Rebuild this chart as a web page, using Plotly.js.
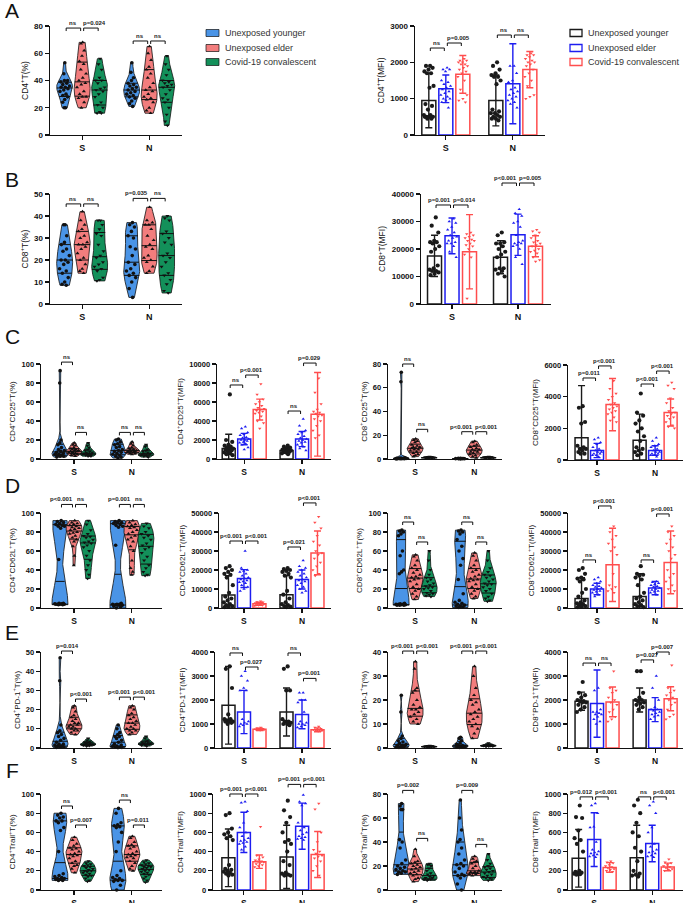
<!DOCTYPE html>
<html><head><meta charset="utf-8">
<script src="https://cdn.plot.ly/plotly-3.0.1.min.js"></script>
<style>html,body{margin:0;padding:0;background:#fff}#chart{width:685px;height:903px}</style>
</head><body><div id="chart"></div>
<script>
// ---------------- DATA (order in each list: younger, elder, convalescent) ----------------
const categories = ['S','N'];
const groupNames = ['Unexposed younger','Unexposed elder','Covid-19 convalescent'];

// A  CD4+ T (%)
const cd4Pct_S = [
 [53,45,40,40,39,38,37,36,35,35,34,33,32,30,29,28,26,24,20,20],
 [68,67,62,58,54,52,48,45,42,40,38,37,35,32,30,28,28,27,24,20],
 [56,52,48,42,40,40,38,35,34,33,32,30,28,24,22,20,17,16,16]];
const cd4Pct_N = [
 [53,46,42,40,38,37,36,35,34,33,32,31,30,29,28,27,25,23,21],
 [65,60,55,50,48,45,42,38,35,33,32,30,28,27,26,24,20,18,16],
 [58,52,48,44,40,39,38,37,36,35,33,30,27,26,24,20,15,10,7]];
// A  CD4+ T (MFI)
const cd4Mfi_S = [
 [1900,1900,1850,1800,1750,1700,1700,1350,1300,850,800,700,550,550,500,500,500,500,450,450],
 [1850,1800,1800,1750,1500,1450,1400,1350,1300,1250,1200,1150,1100,1050,1000,1000,950,900,750],
 [2100,2050,2050,2000,2000,1950,1950,1900,1850,1800,1750,1700,1600,1500,1250,1100,1000,950,900]];
const cd4Mfi_N = [
 [2000,1900,1800,1700,1650,1600,1600,1500,1400,700,650,600,600,550,500,500,450,450,400],
 [1900,1900,1700,1500,1450,1300,1250,1200,1150,1100,1050,1000,950,900,850,750],
 [2250,2200,2200,2150,2100,2050,2000,2000,1950,1900,1800,1700,1600,1500,1350,1100,1050,1000]];
const cd4Mfi_mean = {S:[950,1270,1670], N:[950,1410,1800]};
const cd4Mfi_sd   = {S:[750,380,520],  N:[700,1100,500]};

// B  CD8+ T (%)
const cd8Pct_S = [
 [36,36,31,28,27,25,24,22,20,20,19,18,16,15,14,12,10,9,8.5],
 [42,38,36,34,33,31,30,28,27,27,26,25,23,21,20,18,16,15,14],
 [38,38,36,34,32,31,27,24,22,21,19,18,17,16,15,12,11,10.5]];
const cd8Pct_N = [
 [37,36,35,33,31,30,26,25,22,19,18,16,15,14,13,12,10,7,3],
 [44,38,37,36,36,34,31,29,27,26,25,22,21,20,19,17,15,14],
 [40,39,38,33,32,30,28,27,23,22,21,19,17,14,13,11,9,6,5]];
// B  CD8+ T (MFI)
const cd8Mfi_S = [
 [31500,28500,26000,23000,22500,22500,22000,21000,20000,19000,14000,13000,12500,12000,12000,11500,11000,10500],
 [31000,30000,29500,28000,27000,26000,25000,24500,24000,23000,22500,22000,22000,21000,19000,17000],
 [26000,25500,25000,24500,24000,23500,23000,23000,22000,21500,21000,20000,18000,17000,2000]];
const cd8Mfi_N = [
 [26000,25000,22500,22000,22000,21000,20000,19000,18000,17000,13000,13000,12500,12000,11000,10000],
 [34500,33000,32000,30000,29500,28000,25000,23000,22500,22000,22000,21500,21000,20000,17000,14500],
 [27000,26500,26000,25000,24000,23000,22500,22000,21500,21000,20000,19500,19000,18500,17000,16000,15500]];
const cd8Mfi_mean = {S:[17500,24800,19000], N:[17000,25200,21000]};
const cd8Mfi_sd   = {S:[7500,6500,13500],   N:[6000,7500,3800]};

// C  CD25
const cd4cd25Pct_S = [
 [93,80,20,17,15,12,10,9,8,7,6,5,5,4,4,3,3,2],
 [17,15,14,12,11,10,10,9,9,8,8,7,7,6,6,5,5,4,3],
 [17,14,12,10,9,8,7,7,6,6,5,5,5,4,4,3,3]];
const cd4cd25Pct_N = [
 [21,20,18,16,15,13,12,10,9,8,7,6,5,4,3,2,1],
 [18,16,14,12,11,10,10,9,9,8,8,8,7,7,6,6,5],
 [15,13,10,9,8,7,6,6,5,5,5,4,4,3,3,2]];
const cd4cd25Mfi_S = [
 [6800,2000,1800,1500,1400,1300,1200,1100,1000,1000,900,800,700,600,500,400],
 [3400,3200,2800,2600,2500,2300,2200,2100,2000,2000,1900,1800,1700,1600,1500,1200,1000],
 [7900,6800,6300,6000,5800,5600,5400,5300,5200,5100,5000,4900,4800,4500,4000,3800,3200]];
const cd4cd25Mfi_N = [
 [1400,1300,1200,1100,1000,1000,950,900,850,800,750,700,600,500],
 [4200,3500,3000,2800,2600,2400,2200,2100,2000,1900,1800,1700,1500,1300,1100,900],
 [8500,7000,5800,5200,5000,4900,4800,4600,4500,4200,4000,3500,3000,2500,2200]];
const cd4cd25Mfi_mean = {S:[1100,2100,5200], N:[900,2100,4700]};
const cd4cd25Mfi_sd   = {S:[1500,600,1100],  N:[300,800,4400]};
const cd8cd25Pct_S = [
 [73,65,1,0.8,0.6,0.5,0.5,0.4,0.3,0.3,0.2,0.2,0.1],
 [17,16,15,14,12,11,10,10,9,9,8,8,7,6,5,4,3,2],
 [2,1.8,1.6,1.5,1.4,1.3,1.2,1.1,1,1,0.9,0.8,0.7]];
const cd8cd25Pct_N = [
 [0.6,0.5,0.4,0.4,0.3,0.3,0.2,0.2,0.1],
 [15,14,12,11,10,9,8,8,7,6,6,5,4,3,2,1],
 [2,1.8,1.6,1.5,1.3,1.2,1.1,1,0.9,0.8,0.7]];
const cd8cd25Mfi_S = [
 [3400,3300,2400,2300,900,800,700,700,600,500,400,400],
 [1400,1300,1100,1000,800,700,600,500,500,400,400,300,300,200],
 [5000,4500,4200,4000,3800,3600,3500,3400,3300,3200,3100,3000,2900,2700,2500,2400]];
const cd8cd25Mfi_N = [
 [4200,3000,2800,2500,2300,2000,1800,1500,1200,800,700,600,500,400,300],
 [1400,1200,1000,900,800,700,600,500,500,400,400,300,300,200],
 [4900,4700,4500,3900,3600,3300,3100,3000,2900,2800,2700,2600,2400,2200,2100,2000]];
const cd8cd25Mfi_mean = {S:[1400,600,3500], N:[1250,600,3000]};
const cd8cd25Mfi_sd   = {S:[3300,450,1650], N:[1650,300,850]};

// D  CD62L
const cd4cd62lPct_S = [
 [92,91,90,89,88,87,86,86,84,51,5,5,4.5,4.5,4,4,4,4,3.5,3.5],
 [92,90,89,88,87,86,85,84,83,82,80,79,78,76,74,72,70,65,55,45],
 [92,88,82,78,76,75,74,72,70,69,68,66,64,60,55,50,45,40,35,31]];
const cd4cd62lPct_N = [
 [92,91,90,90,89,88,87,86,85,66,5,4,4,4,3.5,3,3,2,1,0],
 [92,90,88,87,86,85,84,82,80,78,76,74,72,70,65,60,50,42,38,35],
 [89,86,84,80,78,76,74,72,68,66,64,62,58,54,50,45,42,38,35,34]];
const cd4cd62lMfi_S = [
 [22000,21000,20000,19000,18000,17500,16000,12000,8000,6000,5000,4000,3000,2000,1500,1000,800,500],
 [30000,21000,20000,19500,19000,18000,17000,16000,15500,15000,14500,14000,13500,13000,12000,11000,10000,9000],
 [3500,3200,3000,2800,2600,2400,2200,2000,1800,1600,1500,1400,1200]];
const cd4cd62lMfi_N = [
 [21000,20500,20000,19500,19000,18000,17000,16000,9000,7000,5000,3000,2000,1500,1000,800,500],
 [25000,22000,21000,20000,19000,18000,17000,16000,15000,14500,14000,13000,12000,11000,10000,9000,8000],
 [48000,45000,42000,38000,35000,33000,30000,29000,28000,26000,24000,22000,20000,18000,17000]];
const cd4cd62lMfi_mean = {S:[6800,15500,2200], N:[7000,15000,29000]};
const cd4cd62lMfi_sd   = {S:[10200,4700,800],  N:[10000,5000,11500]};
const cd8cd62lPct_S = [
 [82,81,80,78,76,60,55,40,38,36,5,4.5,4,4,4,3.5,3.5,3,3,3],
 [56,54,50,45,42,40,37,35,33,32,31,30,28,25,22,20,18,15,12,9],
 [60,50,40,35,32,30,28,26,24,23,22,21,20,18,16,15,14,13,12]];
const cd8cd62lPct_N = [
 [82,81,80,78,72,65,60,52,45,30,15,8,6,5,4,3,2,2,1,0.5],
 [58,55,50,45,42,40,38,35,33,31,30,29,28,25,22,20,18,15,12,10],
 [60,50,42,38,35,34,32,30,28,26,25,24,22,20,18,15,12,10,8,7]];
const cd8cd62lMfi_S = [
 [21000,20000,18000,16000,15500,15000,14000,10000,8000,6000,4000,3000,2500,2000,1500,1000,800,500],
 [16000,15000,14000,13000,12000,11500,11000,10500,10000,9500,9000,8500,8000,7000,6000],
 [43000,40000,38000,36000,34000,32000,30000,28000,18000,12000,11000,10000,9000,8000]];
const cd8cd62lMfi_N = [
 [22000,18000,17500,17000,16000,15000,12000,8000,6000,5000,4000,3000,2000,1500,1000,500],
 [14000,13500,13000,12500,12000,11500,11000,10500,10000,9500,9000,8500,8000,7000],
 [43000,40000,38000,36000,34000,32000,30000,28000,26000,20000,18000,16000,14000,12000,10000,9000]];
const cd8cd62lMfi_mean = {S:[5000,10000,22700], N:[6000,10500,24000]};
const cd8cd62lMfi_sd   = {S:[11000,3000,19300], N:[12000,3500,16500]};

// E  PD-1
const cd4pd1Pct_S = [
 [47,35,12,9,8,7,6,5,4,3,2,2,1.5,1,1,0.5,0.5,0.3],
 [22,21,19,17,16,15,14,13,13,12,12,11,11,10,10,9,9,8,7],
 [5,4,3.5,3,3,2.5,2.5,2,2,2,1.8,1.5,1.5,1.2,1]];
const cd4pd1Pct_N = [
 [12,10,8,7,6,6,5,4,3,2,1.5,1,1,0.5,0.5,0.3,0.2],
 [22,21,20,18,17,16,15,14,13,13,12,11,10,10,9,9,8,7],
 [6,5,4,3.5,3,3,2.5,2.5,2,2,2,1.5,1.5,1]];
const cd4pd1Mfi_S = [
 [3400,3300,2500,1400,1200,1200,1150,1100,1100,1100,1050,1000],
 [3200,3000,2800,2500,2400,2400,1200,1100,1050,1000,1000,950,900],
 [850,820,800,800,780,780,760,750,740]];
const cd4pd1Mfi_N = [
 [3400,3300,2400,2400,1200,1100,1100,1050,1000,1000,950],
 [2300,2300,2000,2000,1900,1500,1100,1050,1000,1000,950,900,850],
 [900,850,800,780,760,750,740,720,700]];
const cd4pd1Mfi_mean = {S:[1780,1500,780], N:[1500,1400,760]};
const cd4pd1Mfi_sd   = {S:[1620,900,50],   N:[1000,600,80]};
const cd8pd1Pct_S = [
 [22,15,5,4,3,2.5,2,1.5,1,1,0.8,0.5,0.5,0.3,0.2],
 [36,33,25,24,23,20,18,17,16,16,15,14,13,12,11,10],
 [1,0.9,0.8,0.7,0.6,0.6,0.5,0.5,0.4,0.3]];
const cd8pd1Pct_N = [
 [4.5,4,3,2,1.5,1,1,0.8,0.6,0.5,0.3,0.2],
 [34,30,25,22,20,19,18,16,15,14,13,12,11,10,9,8,6,4],
 [2,1.5,1.3,1.2,1,1,0.9,0.8,0.7,0.6]];
const cd8pd1Mfi_S = [
 [2750,2300,2200,2100,2000,1950,1950,1900,1900,1800,1700,1600,1500],
 [2500,2400,1600,1500,1500,1450,1400,1400,1300,1200,1100,1000],
 [3200,2500,2400,2300,2100,2000,1900,1800,1600,1500,1300,1200,1100]];
const cd8pd1Mfi_N = [
 [3200,3200,2300,2100,2000,2000,1950,1900,1850,1800,1700,1600],
 [3000,2500,2000,1700,1600,1600,1550,1500,1450,1400,1350,1300,1200],
 [3450,2500,2400,2300,2200,2100,2000,1900,1800,1600,1400,1300,1200]];
const cd8pd1Mfi_mean = {S:[1950,1850,1920], N:[2000,1600,2050]};
const cd8pd1Mfi_sd   = {S:[380,1400,620],   N:[500,500,500]};

// F  Trail
const cd4trailPct_S = [
 [80,78,76,75,72,72,70,65,62,40,17,15,14,13,12,12,11,11,10,10],
 [55,52,48,46,44,43,42,40,38,37,36,35,33,30,28,26,25,22,18],
 [30,28,27,26,25,24,23,22,21,20,20,19,18,17,16,15,14,12,10,9]];
const cd4trailPct_N = [
 [85,80,70,68,67,66,65,60,50,40,20,15,13,12,11,10,10,9,5,0],
 [56,54,50,47,46,45,43,40,38,37,36,35,34,33,30,28,25,22,20],
 [31,29,28,27,26,25,24,24,23,22,21,20,19,18,17,16,14,12,10,8]];
const cd4trailMfi_S = [
 [800,780,640,600,580,560,540,520,260,220,210,200,190,180,170,160,150],
 [920,910,820,700,650,600,560,540,520,510,500,490,480,450,420],
 [660,360,340,320,310,300,300,290,280,270,260,250,240]];
const cd4trailMfi_N = [
 [930,830,760,700,600,520,500,480,400,300,260,180,170,160,150,150],
 [990,920,900,880,700,650,620,600,580,560,550,540,530,520],
 [900,840,600,500,420,400,380,360,350,330,300,250,200,150]];
const cd4trailMfi_mean = {S:[335,600,295], N:[345,665,370]};
const cd4trailMfi_sd   = {S:[300,210,70],  N:[330,240,240]};
const cd8trailPct_S = [
 [72,70,67,67,42,40,35,25,22,20,19,18,17,16,15,15,14,13],
 [34,28,24,23,22,21,20,19,18,17,16,15,14,13,12,10,9,7],
 [22,21,20,18,16,14,13,12,11,10,10,9,9,9,8]];
const cd8trailPct_N = [
 [75,60,50,42,40,35,30,25,22,21,20,18,15,13,12,12,10,5,0],
 [28,26,24,23,22,20,18,16,15,15,14,14,13,13,12],
 [30,25,22,20,19,18,17,16,15,14,13,12,11,10,10,9,8]];
const cd8trailMfi_S = [
 [880,760,750,620,540,520,480,400,200,190,180,175,170,165,160],
 [900,880,800,660,650,500,420,400,390,380,370,360,350,340],
 [300,290,280,260,250,240,230,220,210,200,190]];
const cd8trailMfi_N = [
 [940,880,800,700,600,560,440,400,300,200,170,160,150,140],
 [920,880,800,650,600,480,450,420,400,390,380,360,350,340],
 [320,290,280,260,250,240,230,220,210,200]];
const cd8trailMfi_mean = {S:[330,525,235], N:[335,485,240]};
const cd8trailMfi_sd   = {S:[300,280,50],  N:[340,190,40]};

// ---------------- STYLE / LAYOUT ----------------
const W = 685, H = 903;
const violinFill = ['#4a94e6','#f27d7d','#13905a'];
const barColor = ['#1a1a1a','#1d1df0','#ff4d4d'];
const syms = ['circle','triangle-up','triangle-down'];
const FONT = 'Liberation Sans, Arial, sans-serif';
const BRFS = 6; // bracket label font size

// box = [x left px, x right px, y px of 0, y px of top]
const charts = [
 {t:'v', box:[50,182,135,26], xr:[-0.48,1.49], top:80, dt:20, title:'CD4<sup>+</sup>T(%)', S:cd4Pct_S, N:cd4Pct_N, off:17.5, hw:8, fs:8,
  br:[[0,0,1,78.5,'ns'],[0,1,2,78.5,'p=0.024'],[1,0,1,69,'ns'],[1,1,2,69,'ns']]},
 {t:'b', box:[415,545,135,26], xr:[-0.46,1.48], top:3000, dt:1000, title:'CD4<sup>+</sup>T(MFI)', S:cd4Mfi_S, N:cd4Mfi_N, m:cd4Mfi_mean, sd:cd4Mfi_sd, off:17, bw:14, fs:8,
  br:[[0,0,1,2394,'ns'],[0,1,2,2532,'p=0.005'],[1,0,1,2752,'ns'],[1,1,2,2752,'ns']]},
 {t:'v', box:[50,182,304,194], xr:[-0.48,1.49], top:50, dt:10, title:'CD8<sup>+</sup>T(%)', S:cd8Pct_S, N:cd8Pct_N, off:17.5, hw:8, fs:8,
  br:[[0,0,1,45.5,'ns'],[0,1,2,45.5,'ns'],[1,0,1,48,'p=0.035'],[1,1,2,48,'ns']]},
 {t:'b', box:[421,551,304,194], xr:[-0.47,1.5], top:40000, dt:10000, title:'CD8<sup>+</sup>T(MFI)', S:cd8Mfi_S, N:cd8Mfi_N, m:cd8Mfi_mean, sd:cd8Mfi_sd, off:17.5, bw:14, fs:8,
  br:[[0,0,1,36000,'p=0.001'],[0,1,2,36000,'p=0.014'],[1,0,1,44000,'p<0.001'],[1,1,2,44000,'p=0.005']]},

 {t:'v', box:[41,162,459,364], xr:[-0.57,1.52], top:100, dt:20, title:'CD4<sup>+</sup>CD25<sup>+</sup>T(%)', S:cd4cd25Pct_S, N:cd4cd25Pct_N, off:14, hw:8, fs:7.5,
  br:[[0,0,1,102,'ns'],[0,1,2,28,'ns'],[1,0,1,28,'ns'],[1,1,2,28,'ns']]},
 {t:'b', box:[217,331,459,364], xr:[-0.47,1.5], top:10000, dt:2000, title:'CD4<sup>+</sup>CD25<sup>+</sup>T(MFI)', S:cd4cd25Mfi_S, N:cd4cd25Mfi_N, m:cd4cd25Mfi_mean, sd:cd4cd25Mfi_sd, off:15.5, bw:13, fs:7.5,
  br:[[0,0,1,7790,'ns'],[0,1,2,8840,'p<0.001'],[1,0,1,5050,'ns'],[1,1,2,10100,'p=0.029']]},
 {t:'v', box:[388,502,459,364], xr:[-0.46,1.47], top:80, dt:20, title:'CD8<sup>+</sup>CD25<sup>+</sup>T(%)', S:cd8cd25Pct_S, N:cd8cd25Pct_N, off:14, hw:8, fs:7.5,
  br:[[0,0,1,80,'ns'],[0,1,2,25,'ns'],[1,0,1,23,'p<0.001'],[1,1,2,23,'p<0.001']]},
 {t:'b', box:[568,683,460,365], xr:[-0.5,1.48], top:6000, dt:2000, title:'CD8<sup>+</sup>CD25<sup>+</sup>T(MFI)', S:cd8cd25Mfi_S, N:cd8cd25Mfi_N, m:cd8cd25Mfi_mean, sd:cd8cd25Mfi_sd, off:15.5, bw:13, fs:7.5,
  br:[[0,0,1,5180,'p=0.011'],[0,1,2,5940,'p<0.001'],[1,0,1,4800,'p<0.001'],[1,1,2,5620,'p<0.001']]},

 {t:'v', box:[41,162,608,513], xr:[-0.57,1.52], top:100, dt:20, title:'CD4<sup>+</sup>CD62L<sup>+</sup>T(%)', S:cd4cd62lPct_S, N:cd4cd62lPct_N, off:14, hw:8, fs:7.5,
  br:[[0,0,1,109,'p<0.001'],[0,1,2,109,'ns'],[1,0,1,109,'p=0.001'],[1,1,2,109,'ns']]},
 {t:'b', box:[219,331,608,513], xr:[-0.43,1.5], top:50000, dt:10000, title:'CD4<sup>+</sup>CD62L<sup>+</sup>T(MFI)', S:cd4cd62lMfi_S, N:cd4cd62lMfi_N, m:cd4cd62lMfi_mean, sd:cd4cd62lMfi_sd, off:15.5, bw:13, fs:7.5,
  br:[[0,0,1,35260,'p<0.001'],[0,1,2,35260,'p<0.001'],[1,0,1,32100,'p=0.021'],[1,1,2,55300,'p<0.001']]},
 {t:'v', box:[388,502,608,513], xr:[-0.46,1.47], top:100, dt:20, title:'CD8<sup>+</sup>CD62L<sup>+</sup>T(%)', S:cd8cd62lPct_S, N:cd8cd62lPct_N, off:14, hw:8, fs:7.5,
  br:[[0,0,1,90.5,'ns'],[0,1,2,69.5,'ns'],[1,0,1,90.5,'ns'],[1,1,2,69.5,'ns']]},
 {t:'b', box:[568,683,608,513], xr:[-0.5,1.48], top:50000, dt:10000, title:'CD8<sup>+</sup>CD62L<sup>+</sup>T(MFI)', S:cd8cd62lMfi_S, N:cd8cd62lMfi_N, m:cd8cd62lMfi_mean, sd:cd8cd62lMfi_sd, off:15.5, bw:13, fs:7.5,
  br:[[0,0,1,25300,'ns'],[0,1,2,53700,'p<0.001'],[1,0,1,25300,'ns'],[1,1,2,49500,'p<0.001']]},

 {t:'v', box:[41,162,748,652], xr:[-0.57,1.52], top:50, dt:10, title:'CD4<sup>+</sup>PD-1<sup>+</sup>T(%)', S:cd4pd1Pct_S, N:cd4pd1Pct_N, off:14, hw:8, fs:7.5,
  br:[[0,0,1,50.5,'p=0.014'],[0,1,2,25.5,'p<0.001'],[1,0,1,26.5,'p<0.001'],[1,1,2,26.5,'p<0.001']]},
 {t:'b', box:[215,331,748,652], xr:[-0.5,1.5], top:4000, dt:1000, title:'CD4<sup>+</sup>PD-1<sup>+</sup>T(MFI)', S:cd4pd1Mfi_S, N:cd4pd1Mfi_N, m:cd4pd1Mfi_mean, sd:cd4pd1Mfi_sd, off:15.5, bw:13, fs:7.5,
  br:[[0,0,1,3960,'ns'],[0,1,2,3375,'p=0.027'],[1,0,1,3960,'ns'],[1,1,2,2900,'p=0.001']]},
 {t:'v', box:[388,502,748,652], xr:[-0.46,1.47], top:40, dt:10, title:'CD8<sup>+</sup>PD-1<sup>+</sup>T(%)', S:cd8pd1Pct_S, N:cd8pd1Pct_N, off:14, hw:8, fs:7.5,
  br:[[0,0,1,40.4,'p<0.001'],[0,1,2,40.4,'p<0.001'],[1,0,1,40.4,'p<0.001'],[1,1,2,40.4,'p<0.001']]},
 {t:'b', box:[568,683,748,652], xr:[-0.5,1.48], top:4000, dt:1000, title:'CD8<sup>+</sup>PD-1<sup>+</sup>T(MFI)', S:cd8pd1Mfi_S, N:cd8pd1Mfi_N, m:cd8pd1Mfi_mean, sd:cd8pd1Mfi_sd, off:15.5, bw:13, fs:7.5,
  br:[[0,0,1,3540,'ns'],[0,1,2,3540,'ns'],[1,0,1,3670,'p=0.027'],[1,1,2,4000,'p=0.007']]},

 {t:'v', box:[41,162,890,794], xr:[-0.57,1.52], top:100, dt:20, title:'CD4<sup>+</sup>Trail<sup>+</sup>T(%)', S:cd4trailPct_S, N:cd4trailPct_N, off:14, hw:8, fs:7.5,
  br:[[0,0,1,87.5,'ns'],[0,1,2,67.7,'p=0.007'],[1,0,1,93.7,'ns'],[1,1,2,67.7,'p=0.011']]},
 {t:'b', box:[213,333,890,794], xr:[-0.53,1.53], top:1000, dt:200, title:'CD4<sup>+</sup>Trail<sup>+</sup>T(MFI)', S:cd4trailMfi_S, N:cd4trailMfi_N, m:cd4trailMfi_mean, sd:cd4trailMfi_sd, off:15.5, bw:13, fs:7.5,
  br:[[0,0,1,1000,'p=0.001'],[0,1,2,1000,'p<0.001'],[1,0,1,1100,'p=0.001'],[1,1,2,1100,'p<0.001']]},
 {t:'v', box:[388,502,890,794], xr:[-0.46,1.47], top:80, dt:20, title:'CD8<sup>+</sup>Trail<sup>+</sup>T(%)', S:cd8trailPct_S, N:cd8trailPct_N, off:14, hw:8, fs:7.5,
  br:[[0,0,1,83,'p=0.002'],[0,1,2,43,'ns'],[1,0,1,83,'p=0.009'],[1,1,2,38,'ns']]},
 {t:'b', box:[568,683,890,794], xr:[-0.45,1.53], top:1000, dt:200, title:'CD8<sup>+</sup>Trail<sup>+</sup>T(MFI)', S:cd8trailMfi_S, N:cd8trailMfi_N, m:cd8trailMfi_mean, sd:cd8trailMfi_sd, off:15.5, bw:13, fs:7.5,
  br:[[0,0,1,970,'p=0.012'],[0,1,2,970,'p<0.001'],[1,0,1,970,'ns'],[1,1,2,970,'p<0.001']]}
];

// ---------------- HELPERS ----------------
function quant(s,p){const n=s.length;let pos=(n+1)*p-1;if(pos<=0)return s[0];if(pos>=n-1)return s[n-1];const lo=Math.floor(pos),f=pos-lo;return s[lo]+(s[lo+1]-s[lo])*f;}
function violinShape(vals){
  const s=vals.slice().sort((a,b)=>a-b), n=s.length;
  const mean=s.reduce((a,b)=>a+b,0)/n;
  const sd=Math.sqrt(s.reduce((a,b)=>a+(b-mean)*(b-mean),0)/(n-1));
  const iqr=quant(s,.75)-quant(s,.25);
  let sig=Math.min(sd,iqr/1.34); if(!(sig>0)) sig=sd;
  const lo=s[0], hi=s[n-1];
  let h=0.9*sig*Math.pow(n,-0.2); h=Math.max(h,(hi-lo)/60,1e-6);
  const G=160, ys=[], ds=[];
  for(let i=0;i<=G;i++){const y=lo+(hi-lo)*i/G;let d=0;for(const v of s)d+=Math.exp(-0.5*((y-v)/h)**2);ys.push(y);ds.push(d);}
  const m=Math.max(...ds);
  return {ys, ws:ds.map(d=>d/m), q1:quant(s,.25), med:quant(s,.5), q3:quant(s,.75)};
}
function widthAt(sh,y){const ys=sh.ys;if(y<=ys[0])return sh.ws[0];if(y>=ys[ys.length-1])return sh.ws[ys.length-1];
  for(let i=1;i<ys.length;i++){if(y<=ys[i]){const f=(y-ys[i-1])/(ys[i]-ys[i-1]);return sh.ws[i-1]+(sh.ws[i]-sh.ws[i-1])*f;}}return 0;}
function jit(i){const u=((i+1)*0.6180339887)%1;return 2*u-1;}
function textW(t){return t.length*BRFS*0.56;}

const traces=[], shapes=[], annotations=[];
const layout={width:W,height:H,margin:{l:0,r:0,t:0,b:0},paper_bgcolor:'#fff',plot_bgcolor:'rgba(0,0,0,0)',
  showlegend:false,barmode:'overlay',font:{family:FONT,color:'#222'}};

charts.forEach((c,ci)=>{
  const k=ci+1, sfx=k===1?'':String(k);
  const xa='x'+sfx, ya='y'+sfx;
  const [xl,xrp,yb,yt]=c.box;
  const ppu=(xrp-xl)/(c.xr[1]-c.xr[0]);   // px per x unit
  const off=c.off/ppu;
  layout['xaxis'+sfx]={domain:[xl/W,xrp/W],range:c.xr,anchor:ya,tickvals:[0,1],ticktext:categories,
    showline:true,linecolor:'#111',linewidth:1.4,ticks:'outside',ticklen:4,tickwidth:1.2,tickcolor:'#111',
    showgrid:false,zeroline:false,fixedrange:true,
    tickfont:{family:FONT,size:c.fs+1,color:'#111',weight:'bold'}};
  layout['yaxis'+sfx]={domain:[1-yb/H,1-yt/H],range:[0,c.top],anchor:xa,dtick:c.dt,tick0:0,tickformat:'d',
    showline:true,linecolor:'#111',linewidth:1.4,ticks:'outside',ticklen:4,tickwidth:1.2,tickcolor:'#111',
    showgrid:false,zeroline:false,fixedrange:true,
    tickfont:{family:FONT,size:c.fs,color:'#111',weight:'bold'},
    title:{text:c.title,font:{family:FONT,size:c.fs+0.5,color:'#111'},standoff:4}};

  const toPX=x=>xl+(x-c.xr[0])*ppu;
  const toPY=v=>yb-v/c.top*(yb-yt);

  if(c.t==='v'){
    const hw=c.hw/ppu;
    categories.forEach((cat,cj)=>{
      const groups=c[cat];
      groups.forEach((vals,g)=>{
        const cx=cj+off*(g-1);
        const sh=violinShape(vals);
        const px=[],py=[];
        sh.ys.forEach((y,i)=>{px.push(cx+sh.ws[i]*hw);py.push(y);});
        for(let i=sh.ys.length-1;i>=0;i--){px.push(cx-sh.ws[i]*hw);py.push(sh.ys[i]);}
        px.push(px[0]);py.push(py[0]);
        traces.push({type:'scatter',mode:'lines',x:px,y:py,xaxis:xa,yaxis:ya,fill:'toself',fillcolor:violinFill[g],
          line:{color:'#111',width:0.8},hoverinfo:'skip',cliponaxis:false});
        const lx=[],ly=[];
        [sh.q1,sh.med,sh.q3].forEach(q=>{const w=widthAt(sh,q)*hw;lx.push(cx-w,cx+w,null);ly.push(q,q,null);});
        traces.push({type:'scatter',mode:'lines',x:lx,y:ly,xaxis:xa,yaxis:ya,line:{color:'#111',width:1},hoverinfo:'skip',cliponaxis:false});
        traces.push({type:'scatter',mode:'markers',xaxis:xa,yaxis:ya,cliponaxis:false,hoverinfo:'skip',
          x:vals.map((v,i)=>cx+jit(i)*0.7*hw*widthAt(sh,v)),y:vals,
          marker:{symbol:syms[g],size:3.6,color:'#111'}});
      });
    });
  } else {
    const bw=c.bw/ppu;
    [0,1,2].forEach(g=>{
      traces.push({type:'bar',xaxis:xa,yaxis:ya,x:[0+off*(g-1),1+off*(g-1)],y:[c.m.S[g],c.m.N[g]],width:bw,
        marker:{color:'rgba(255,255,255,0)',line:{color:barColor[g],width:1.5}},
        error_y:{type:'data',array:[c.sd.S[g],c.sd.N[g]],visible:true,color:barColor[g],thickness:1.4,width:3.5},
        hoverinfo:'skip'});
    });
    [0,1,2].forEach(g=>{
      const xs=[],ys=[];
      categories.forEach((cat,cj)=>{const cx=cj+off*(g-1);c[cat][g].forEach((v,i)=>{xs.push(cx+jit(i)*0.38*bw);ys.push(v);});});
      traces.push({type:'scatter',mode:'markers',xaxis:xa,yaxis:ya,x:xs,y:ys,cliponaxis:false,hoverinfo:'skip',
        marker:{symbol:syms[g],size:g===0?4.2:3,color:barColor[g]}});
    });
  }
  // significance brackets
  c.br.forEach(b=>{
    const [cj,g1,g2,yv,txt]=b;
    const x1=toPX(cj+off*(g1-1))+1.5, x2=toPX(cj+off*(g2-1))-1.5, py=toPY(yv);
    const P=(x,y)=>(x/W).toFixed(5)+','+(1-y/H).toFixed(5);
    shapes.push({type:'path',xref:'paper',yref:'paper',path:'M'+P(x1,py+3)+'L'+P(x1,py)+'L'+P(x2,py)+'L'+P(x2,py+3),
      line:{color:'#111',width:1}});
    // keep paired labels at similar height from colliding
    let tx=(x1+x2)/2;
    const partner=c.br.find(o=>o!==b&&o[0]===cj&&Math.abs(toPY(o[3])-py)<7);
    if(partner){
      const mid=toPX(cj);
      const w=textW(txt);
      if(g1===0) tx=Math.min(tx,mid-1-w/2); else tx=Math.max(tx,mid+1+w/2);
    }
    annotations.push({xref:'paper',yref:'paper',x:tx/W,y:1-py/H,text:txt,showarrow:false,xanchor:'center',yanchor:'bottom',
      yshift:0,font:{family:FONT,size:BRFS,color:'#222',weight:'bold'}});
  });
});

// panel letters
[['A',12,10],['B',12,180],['C',12,336],['D',12,485],['E',12,632],['F',12,770]].forEach(p=>{
  annotations.push({xref:'paper',yref:'paper',x:p[1]/W,y:1-p[2]/H,text:p[0],showarrow:false,xanchor:'center',yanchor:'middle',
    font:{family:FONT,size:21,color:'#111'}});
});
// legends
groupNames.forEach((nm,g)=>{
  const yc=[33,48,62][g];
  shapes.push({type:'rect',xref:'paper',yref:'paper',x0:206/W,x1:219/W,y0:1-(yc+3.5)/H,y1:1-(yc-3.5)/H,
    fillcolor:violinFill[g],line:{color:'#111',width:0.7}});
  annotations.push({xref:'paper',yref:'paper',x:223/W,y:1-yc/H,text:nm,showarrow:false,xanchor:'left',yanchor:'middle',
    font:{family:FONT,size:9,color:'#333'}});
  shapes.push({type:'rect',xref:'paper',yref:'paper',x0:570/W,x1:582/W,y0:1-(yc+3.5)/H,y1:1-(yc-3.5)/H,
    fillcolor:'#fff',line:{color:barColor[g],width:1.3}});
  annotations.push({xref:'paper',yref:'paper',x:586/W,y:1-yc/H,text:nm,showarrow:false,xanchor:'left',yanchor:'middle',
    font:{family:FONT,size:9,color:'#333'}});
});
layout.shapes=shapes; layout.annotations=annotations;
Plotly.newPlot('chart',traces,layout,{staticPlot:true,displayModeBar:false});
</script></body></html>
